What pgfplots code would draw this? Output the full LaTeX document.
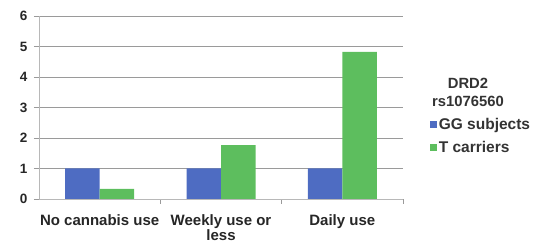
\documentclass[border=0pt]{standalone}
\usepackage{pgfplots}
\pgfplotsset{compat=1.18}
\usepackage{fontspec}
\setmainfont{Liberation Sans}
\definecolor{bblue}{HTML}{4E6CC2}
\definecolor{bgreen}{HTML}{5DBE5E}
\definecolor{gridc}{HTML}{9A9A9A}
\begin{document}
\begin{tikzpicture}
\useasboundingbox (0,0) rectangle (537pt,248pt);
\begin{axis}[
  at={(39pt,49pt)}, anchor=south west,
  scale only axis, width=364pt, height=183pt,
  ybar=0pt, bar width=34.5pt,
  xmin=-0.5, xmax=2.5, ymin=0, ymax=6,
  axis lines*=left,
  axis line style={gridc!70, line width=0.8pt},
  xtick={0.5,1.5,2.5},
  xticklabels={},
  extra x ticks={0,1,2},
  extra x tick labels={No cannabis use,{Weekly use or\\less},Daily use},
  extra x tick style={major tick length=0pt, grid=none,
    tick label style={font=\fontsize{15}{15}\selectfont\bfseries, align=center, yshift=-12pt, text=black!85}},
  ytick={0,1,2,3,4,5,6},
  yticklabel style={font=\fontsize{13.5}{14}\selectfont\bfseries, xshift=-3pt, text=black!85},
  /pgf/number format/assume math mode=true,
  tick align=outside,
  major tick length=5pt,
  tick style={gridc, line width=0.8pt},
  ymajorgrids, grid style={gridc, line width=0.7pt},
  legend style={at={(1.073,0.4536)}, anchor=north west, draw=none, fill=none,
    font=\fontsize{15.5}{15.5}\selectfont\bfseries, text=black!80, row sep=6.5pt, inner sep=0pt,
    /tikz/every even column/.append style={column sep=0pt}},
  legend cell align=left,
  legend image code/.code={\fill[#1] (0pt,-3.5pt) rectangle (7pt,3.5pt);},
  clip=false,
]
\addplot[fill=bblue, draw=none] coordinates {(0,1) (1,1) (2,1)};
\addplot[fill=bgreen, draw=none] coordinates {(0,0.33) (1,1.77) (2,4.82)};
\legend{GG subjects, T carriers}
\node[align=center, text=black!80, font=\fontsize{14.8}{18}\selectfont\bfseries] at (rel axis cs:1.1786,0.585) {DRD2\\rs1076560};
\end{axis}
\end{tikzpicture}
\end{document}
